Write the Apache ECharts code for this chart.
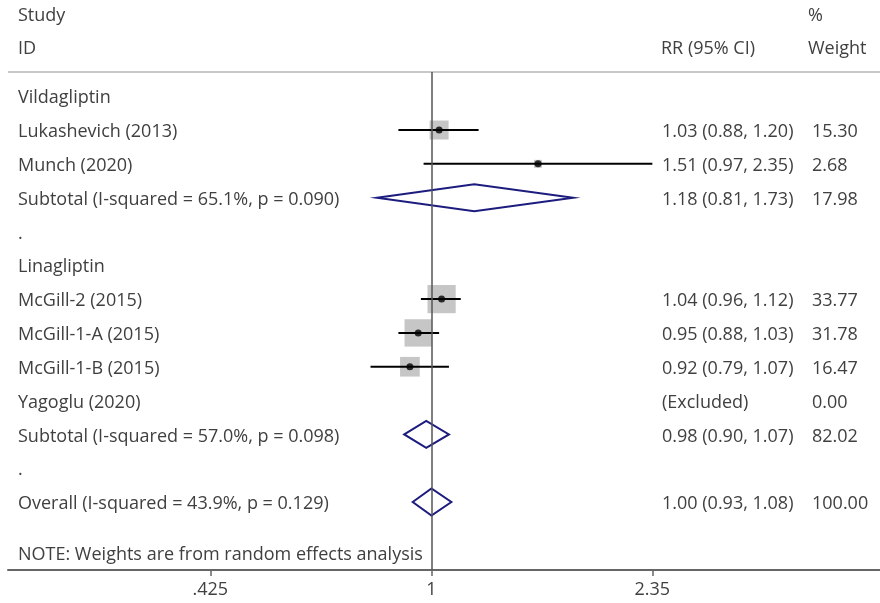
<!DOCTYPE html>
<html>
<head>
<meta charset="utf-8">
<script src="https://cdn.jsdelivr.net/npm/echarts@6/dist/echarts.min.js"></script>
<style>html,body{margin:0;padding:0;background:#fff}#c{width:880px;height:603px}</style>
</head>
<body>
<div id="c"></div>
<script>
// ---- data ----
const rowLabels = ['Vildagliptin','Lukashevich (2013)','Munch (2020)','Subtotal (I-squared = 65.1%, p = 0.090)','.','Linagliptin','McGill-2 (2015)','McGill-1-A (2015)','McGill-1-B (2015)','Yagoglu (2020)','Subtotal (I-squared = 57.0%, p = 0.098)','.','Overall (I-squared = 43.9%, p = 0.129)'];
const rrText = ['','1.03 (0.88, 1.20)','1.51 (0.97, 2.35)','1.18 (0.81, 1.73)','','','1.04 (0.96, 1.12)','0.95 (0.88, 1.03)','0.92 (0.79, 1.07)','(Excluded)','0.98 (0.90, 1.07)','','1.00 (0.93, 1.08)'];
const weightText = ['','15.30','2.68','17.98','','','33.77','31.78','16.47','0.00','82.02','','100.00'];

const studyRows = [1, 2, 6, 7, 8];
const studyRR = [1.03, 1.51, 1.04, 0.95, 0.92];
const studyLo = [0.88, 0.97, 0.96, 0.88, 0.79];
const studyHi = [1.20, 2.35, 1.12, 1.03, 1.07];
const studyWeight = [15.30, 2.68, 33.77, 31.78, 16.47];

const pooledRows = [3, 10, 12];
const pooledRR = [1.18, 0.98, 1.00];
const pooledLo = [0.81, 0.90, 0.93];
const pooledHi = [1.73, 1.07, 1.08];

const tickValues = [0.425, 1, 2.35];
const tickLabels = ['.425', '1', '2.35'];
const noteText = 'NOTE: Weights are from random effects analysis';
const noteRow = 13.5;

// ---- chart ----
const L = Math.log;
const FONT = '18px "Open Sans", sans-serif';
const TXT = '#404040';
const chart = echarts.init(document.getElementById('c'), null, {renderer: 'canvas'});

const textData = rowLabels.map((s, i) => [0, i]);
textData.push([0, noteRow]);

const option = {
  animation: false,
  backgroundColor: '#fff',
  grid: {left: 8, right: 0, top: 72, bottom: 33},
  xAxis: {
    type: 'value', min: -1.638, max: 1.735, position: 'bottom',
    axisLine: {show: true, onZero: false, lineStyle: {color: '#666', width: 2}},
    axisTick: {show: true, length: 6, lineStyle: {color: '#666', width: 1.5}, customValues: tickValues.map(L)},
    axisLabel: {
      customValues: tickValues.map(L), color: TXT, fontSize: 18, fontFamily: '"Open Sans", sans-serif', margin: 11,
      formatter: v => {
        let best = 0;
        tickValues.forEach((t, i) => { if (Math.abs(L(t) - v) < Math.abs(L(tickValues[best]) - v)) best = i; });
        return tickLabels[best];
      }
    },
    splitLine: {show: false}
  },
  yAxis: {type: 'value', inverse: true, min: -0.715, max: 14.01, show: false},
  graphic: [
    {type: 'text', left: 18, top: 7, style: {text: 'Study', font: FONT, fill: TXT}},
    {type: 'text', left: 18, top: 40, style: {text: 'ID', font: FONT, fill: TXT}},
    {type: 'text', left: 661, top: 40, style: {text: 'RR (95% CI)', font: FONT, fill: TXT}},
    {type: 'text', left: 808, top: 7, style: {text: '%', font: FONT, fill: TXT}},
    {type: 'text', left: 808, top: 40, style: {text: 'Weight', font: FONT, fill: TXT}},
    {type: 'line', shape: {x1: 8, y1: 72, x2: 880, y2: 72}, style: {stroke: '#c8c8c8', lineWidth: 2}}
  ],
  series: [
    {
      type: 'scatter', z: 2,
      data: studyRows.map((r, i) => [L(studyRR[i]), r, studyWeight[i]]),
      symbol: 'rect',
      symbolSize: v => 4.85 * Math.sqrt(v[2]),
      itemStyle: {color: '#b8b8b8'},
      markLine: {
        silent: true, symbol: 'none', label: {show: false},
        lineStyle: {color: '#555', width: 1.5, type: 'solid'},
        data: [{xAxis: 0}]
      }
    },
    {
      type: 'custom', z: 3, clip: false,
      data: studyRows.map((r, i) => [L(studyLo[i]), L(studyHi[i]), r]),
      encode: {x: [0, 1], y: 2},
      renderItem: (params, api) => {
        const p1 = api.coord([api.value(0), api.value(2)]);
        const p2 = api.coord([api.value(1), api.value(2)]);
        return {type: 'line', shape: {x1: p1[0], y1: p1[1], x2: p2[0], y2: p2[1]}, style: {stroke: '#000', lineWidth: 2}};
      }
    },
    {
      type: 'scatter', z: 4,
      data: studyRows.map((r, i) => [L(studyRR[i]), r]),
      symbol: 'circle', symbolSize: 7,
      itemStyle: {color: '#000'}
    },
    {
      type: 'custom', z: 3, clip: false,
      data: pooledRows.map((r, i) => [L(pooledLo[i]), L(pooledRR[i]), L(pooledHi[i]), r]),
      encode: {x: [0, 1, 2], y: 3},
      renderItem: (params, api) => {
        const y = api.value(3);
        const a = api.coord([api.value(0), y]);
        const c = api.coord([api.value(1), y]);
        const b = api.coord([api.value(2), y]);
        const h = 13.5;
        return {
          type: 'polygon',
          shape: {points: [[a[0], a[1]], [c[0], c[1] - h], [b[0], b[1]], [c[0], c[1] + h]]},
          style: {fill: 'none', stroke: '#1c1c7e', lineWidth: 2}
        };
      }
    },
    {
      type: 'custom', z: 5, clip: false, silent: true,
      data: textData,
      encode: {x: 0, y: 1},
      renderItem: (params, api) => {
        const i = params.dataIndex;
        const y = api.coord([0, api.value(1)])[1] + 2;
        if (i >= rowLabels.length) {
          return {type: 'text', x: 18, y: y, style: {text: noteText, font: FONT, fill: TXT, verticalAlign: 'middle'}};
        }
        return {
          type: 'group',
          children: [
            {type: 'text', x: 18, y: y, style: {text: rowLabels[i], font: FONT, fill: TXT, verticalAlign: 'middle'}},
            {type: 'text', x: 662, y: y, style: {text: rrText[i], font: FONT, fill: TXT, verticalAlign: 'middle'}},
            {type: 'text', x: 812, y: y, style: {text: weightText[i], font: FONT, fill: TXT, verticalAlign: 'middle'}}
          ]
        };
      }
    }
  ]
};
chart.setOption(option);
</script>
</body>
</html>
